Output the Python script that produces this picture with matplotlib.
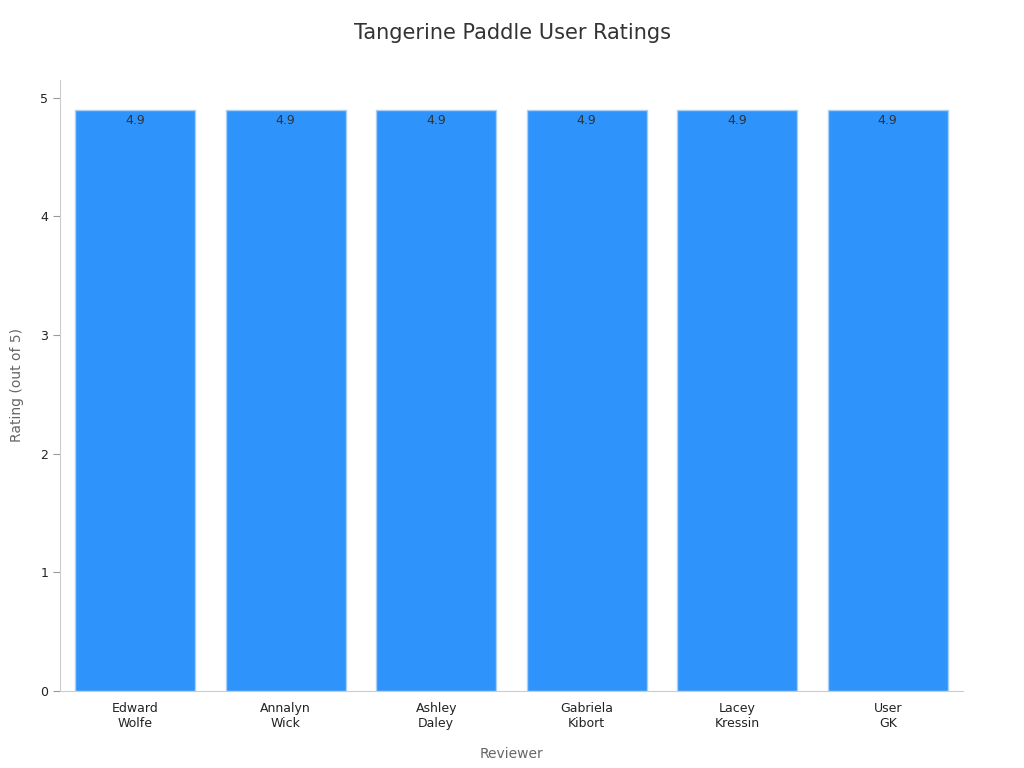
import matplotlib
matplotlib.use("Agg")
import matplotlib.pyplot as plt

reviewers = ["Edward\nWolfe", "Annalyn\nWick", "Ashley\nDaley", "Gabriela\nKibort", "Lacey\nKressin", "User\nGK"]
ratings = [4.9, 4.9, 4.9, 4.9, 4.9, 4.9]

fig = plt.figure(figsize=(10.24, 7.68), dpi=100)
ax = fig.add_axes([0.0586, 0.1003, 0.8818, 0.7955])

bars = ax.bar(range(len(reviewers)), ratings, width=0.8, color="#2E93FA",
              edgecolor="#A9CFF5", linewidth=1)
for b, v in zip(bars, ratings):
    ax.text(b.get_x() + b.get_width() / 2, v - 0.04, f"{v}", ha="center", va="top",
            fontsize=9, color="#333333")

ax.set_xlim(-0.5, 5.5)
ax.set_ylim(0, 5.15)
ax.set_xticks(range(len(reviewers)))
ax.set_xticklabels(reviewers, fontsize=9, color="#222222")
ax.set_yticks(range(6))
ax.tick_params(axis="y", labelsize=9, colors="#222222", length=5, color="#999999")
ax.tick_params(axis="x", length=0, pad=8)
for s in ["top", "right"]:
    ax.spines[s].set_visible(False)
for s in ["left", "bottom"]:
    ax.spines[s].set_color("#CCCCCC")

ax.set_xlabel("Reviewer", fontsize=10, color="#666666", labelpad=12)
ax.set_ylabel("Rating (out of 5)", fontsize=10, color="#666666", labelpad=12)
fig.suptitle("Tangerine Paddle User Ratings", fontsize=15, color="#333333", y=0.97)

fig.savefig("out.png", dpi=100)
